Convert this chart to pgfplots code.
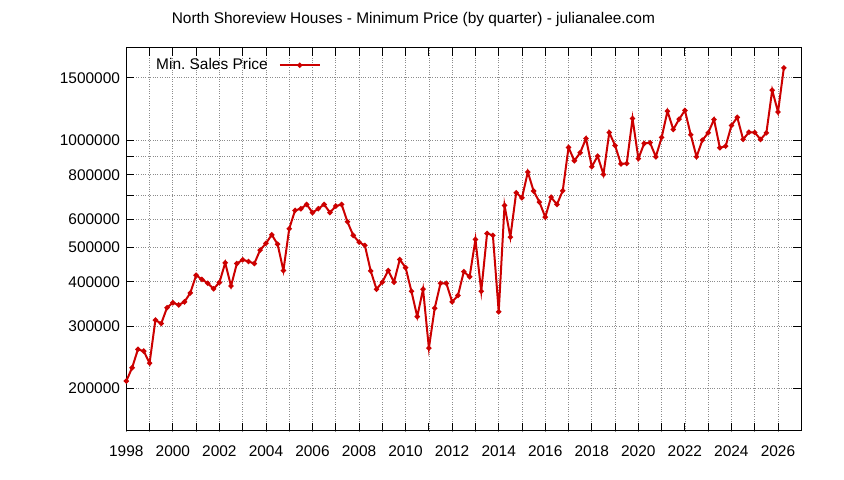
\documentclass[border=0pt]{standalone}
\usepackage{fontspec}
\setmainfont{Liberation Sans}
\usepackage{pgfplots}
\pgfplotsset{compat=1.18}
\definecolor{pricered}{RGB}{204,0,0}

\begin{document}
\fontsize{15.5}{18}\selectfont
\begin{tikzpicture}
% page frame: 844 x 480 px, plot box 675 x 383 px
\path[use as bounding box] (-126.3bp,-49bp) rectangle (717.7bp,431bp);
\begin{axis}[
    at={(0,0)}, anchor=south west,
    scale only axis,
    width=675bp, height=383bp,
    ymode=log,
    xmin=1998, xmax=2027,
    ymin=152000, ymax=1820000,
    xtick={1998,1999,...,2026},
    xticklabels={1998,,2000,,2002,,2004,,2006,,2008,,2010,,2012,,2014,,2016,,2018,,2020,,2022,,2024,,2026},
    ytick={200000,300000,400000,500000,600000,700000,800000,900000,1000000,1500000},
    yticklabels={200000,300000,400000,500000,600000,,800000,,1000000,1500000},
    xticklabel style={anchor=base, yshift=-25.5bp},
    yticklabel style={anchor=east, xshift=-1bp},
    tick align=inside,
    major tick length=8bp,
    tick style={black, line width=0.8bp},
    axis line style={black, line width=1bp},
    grid=major,
    major grid style={dotted, black!45, line width=0.7bp},
    legend plot pos=right,
    legend style={at={(0.2884,0.9548)}, anchor=east, draw=none, fill=none,
        inner sep=0pt, font=\fontsize{15.5}{18}\selectfont,
        /tikz/column 1/.style={column sep=9bp}},
    legend image code/.code={
        \draw[mark repeat=2,mark phase=2,#1] plot coordinates {(0bp,0bp) (20bp,0bp) (40bp,0bp)};
    },
]
\addplot[pricered, line width=2bp, mark=*, mark size=1.5bp] coordinates {
(1998.00,210000) (1998.25,229000) (1998.50,258000) (1998.75,255000)
(1999.00,236000) (1999.25,312000) (1999.50,305000) (1999.75,338000)
(2000.00,349000) (2000.25,344000) (2000.50,351000) (2000.75,372000)
(2001.00,417000) (2001.25,406000) (2001.50,396000) (2001.75,382000)
(2002.00,398000) (2002.25,452000) (2002.50,389000) (2002.75,450000)
(2003.00,461000) (2003.25,456000) (2003.50,450000) (2003.75,491000)
(2004.00,513000) (2004.25,542000) (2004.50,510000) (2004.75,430000)
(2005.00,564000) (2005.25,635000) (2005.50,642000) (2005.75,660000)
(2006.00,626000) (2006.25,642000) (2006.50,660000) (2006.75,626000)
(2007.00,653000) (2007.25,660000) (2007.50,590000) (2007.75,540000)
(2008.00,517000) (2008.25,506000) (2008.50,429000) (2008.75,381000)
(2009.00,399000) (2009.25,430000) (2009.50,399000) (2009.75,462000)
(2010.00,438000) (2010.25,376000) (2010.50,319000) (2010.75,381000)
(2011.00,260000) (2011.25,337000) (2011.50,396000) (2011.75,396000)
(2012.00,351000) (2012.25,366000) (2012.50,427000) (2012.75,413000)
(2013.00,526000) (2013.25,376000) (2013.50,547000) (2013.75,540000)
(2014.00,329000) (2014.25,656000) (2014.50,534000) (2014.75,712000)
(2015.00,689000) (2015.25,814000) (2015.50,720000) (2015.75,670000)
(2016.00,608000) (2016.25,692000) (2016.50,660000) (2016.75,721000)
(2017.00,955000) (2017.25,876000) (2017.50,923000) (2017.75,1012000)
(2018.00,843000) (2018.25,903000) (2018.50,802000) (2018.75,1052000)
(2019.00,967000) (2019.25,858000) (2019.50,861000) (2019.75,1152000)
(2020.00,888000) (2020.25,980000) (2020.50,985000) (2020.75,899000)
(2021.00,1019000) (2021.25,1208000) (2021.50,1073000) (2021.75,1147000)
(2022.00,1214000) (2022.25,1037000) (2022.50,899000) (2022.75,1001000)
(2023.00,1050000) (2023.25,1145000) (2023.50,953000) (2023.75,963000)
(2024.00,1101000) (2024.25,1161000) (2024.50,1006000) (2024.75,1054000)
(2025.00,1052000) (2025.25,1006000) (2025.50,1050000) (2025.75,1384000)
(2026.00,1202000) (2026.25,1600000)
};
\addlegendentry{Min.\ Sales Price}
\end{axis}
\node at (287.1bp,411bp) {North Shoreview Houses - Minimum Price (by quarter) - julianalee.com};
\end{tikzpicture}
\end{document}
